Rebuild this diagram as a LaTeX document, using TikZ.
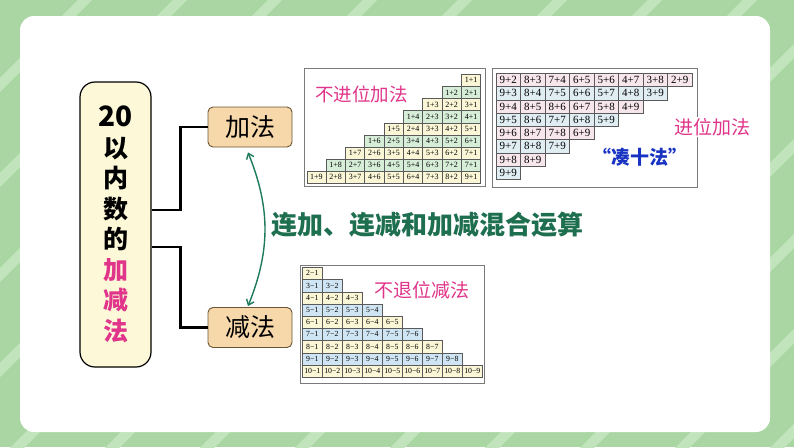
\documentclass[tikz,border=0pt]{standalone}
\usepackage{fontspec}
\setmainfont{Liberation Serif}
\newfontfamily\cjk{Noto Sans CJK SC}
\usetikzlibrary{arrows.meta,calc}

\definecolor{bggreen}{HTML}{A9D6A3}
\definecolor{bglight}{HTML}{C2E4BC}
\definecolor{boxyellow}{HTML}{FDF8D8}
\definecolor{peach}{HTML}{F7D8AA}
\definecolor{peachline}{HTML}{6B5534}
\definecolor{darkgreen}{HTML}{1E6E50}
\definecolor{arrowgreen}{HTML}{1D7A5A}
\definecolor{pinktxt}{HTML}{E0358A}
\definecolor{bluetxt}{HTML}{1833C2}
\definecolor{cellyellow}{HTML}{FBF6D6}
\definecolor{cellgreen}{HTML}{D6EDD8}
\definecolor{cellpink}{HTML}{F7E6EC}
\definecolor{cellblue}{HTML}{E0EEF4}
\definecolor{cellblue2}{HTML}{CFE5F3}
\definecolor{framegray}{HTML}{7A7A7A}
\definecolor{cellline}{HTML}{5A5A5A}

\tikzset{
  titlebox/.style={draw=black, line width=1.2pt, fill=boxyellow, rounded corners=15pt,
    minimum width=71pt, minimum height=285pt, align=center, inner sep=0pt},
  opbox/.style={draw=peachline, fill=peach, line width=0.9pt, rounded corners=5pt,
    minimum width=84pt, minimum height=40pt, inner sep=0pt,
    font=\cjk\fontsize{25}{25}\selectfont},
  conn/.style={line width=2.4pt, black, line join=miter},
  garrow/.style={arrowgreen, line width=1.4pt, {Straight Barb[length=5pt,width=8pt]}-{Straight Barb[length=5pt,width=8pt]}},
  tframe/.style={draw=framegray, line width=0.8pt, fill=white},
  cellbox/.style={draw=cellline, line width=0.4pt, inner sep=0pt},
  pinklbl/.style={text=pinktxt, inner sep=0pt},
}

\begin{document}
\begin{tikzpicture}[x=1pt, y=-1pt]
\useasboundingbox (0,0) rectangle (794,447);
\fill[bggreen] (0,0) rectangle (794,447);
\begin{scope}
  \clip (0,0) rectangle (794,447);
  \foreach \x in {0,95,...,1300} {
    \draw[bglight, line width=10pt] (\x,-10) -- ++(-470,470);
  }
\end{scope}
\fill[white, rounded corners=14pt] (20,16) rectangle (770,432);

% title box
\node[titlebox, font=\cjk\bfseries\fontsize{25}{30.5}\selectfont] (title) at (115.5,224.5)
  {{\fontsize{28}{30.5}\selectfont 20}\\以\\内\\数\\的\\\textcolor{pinktxt}{加}\\\textcolor{pinktxt}{减}\\\textcolor{pinktxt}{法}};

% operation boxes
\node[opbox] (add) at (250,127) {加法};
\node[opbox] (sub) at (250,327.5) {减法};

% connectors
\draw[conn] ([yshift=14.5pt]title.east) -- ++(29pt,0) |- (add.west);
\draw[conn] ([yshift=-22.5pt]title.east) -- ++(29pt,0) |- (sub.west);

% green double arrow
\draw[garrow] ([xshift=-2pt,yshift=-5pt]add.south) to[bend left=22] ([xshift=-2pt,yshift=1pt]sub.north);

% middle text
\node[font=\cjk\bfseries\fontsize{26}{26}\selectfont, text=darkgreen, anchor=west, inner sep=0pt]
  (mix) at (271,225) {连加、连减和加减混合运算};

% ---------- non-carry addition table ----------
\draw[tframe] (304,68) rectangle (485,186);
\foreach \r in {1,...,9} {
  \pgfmathtruncatemacro\cs{10-\r}
  \foreach \c in {\cs,...,9} {
    \pgfmathtruncatemacro\k{\c+\r-9}
    \pgfmathtruncatemacro\m{\r+1-\k}
    \ifnum\r=8 \ifnum\c=9 \def\k{7}\fi\fi
    \ifodd\r\relax \def\fc{cellyellow}\else\def\fc{cellgreen}\fi
    \node[cellbox, fill=\fc, minimum width=19.33pt, minimum height=12.1pt,
      font=\fontsize{8}{8}\selectfont] (na-\r-\c)
      at ({306.7+(\c-0.5)*19.33},{74.3+(\r-0.5)*12.1}) {\k+\m};
  }
}
\node[pinklbl, font=\cjk\fontsize{18.5}{18.5}\selectfont] (t1) at (361.5,94) {不进位加法};

% ---------- carry addition table ----------
\draw[tframe] (492,68) rectangle (697,187);
\foreach \r in {1,...,8} {
  \pgfmathtruncatemacro\ce{9-\r}
  \foreach \c in {1,...,\ce} {
    \pgfmathtruncatemacro\k{10-\c}
    \pgfmathtruncatemacro\m{\r+\c}
    \ifnum\r=3 \ifnum\c=3 \def\k{8}\fi\fi
    \ifodd\r\relax \def\fc{cellpink}\else\def\fc{cellblue}\fi
    \node[cellbox, fill=\fc, minimum width=24.5pt, minimum height=13.25pt,
      font=\fontsize{11}{11}\selectfont] (ca-\r-\c)
      at ({496+(\c-0.5)*24.5},{73.3+(\r-0.5)*13.25}) {\k+\m};
  }
}
\node[pinklbl, fill=white, inner sep=1.5pt, font=\cjk\fontsize{19}{19}\selectfont] (t2) at (712,127) {进位加法};
\node[text=bluetxt, inner sep=0pt, font=\cjk\bfseries\fontsize{19}{19}\selectfont] (t3) at (640,157) {“凑十法”};

% ---------- non-borrow subtraction table ----------
\draw[tframe] (300,265) rectangle (484,383);
\foreach \r in {1,...,9} {
  \pgfmathtruncatemacro\a{\r+1}
  \foreach \c in {1,...,\r} {
    \ifodd\r\relax \def\fc{cellyellow}\else\def\fc{cellblue2}\fi
    \node[cellbox, fill=\fc, minimum width=20pt, minimum height=12.2pt,
      font=\fontsize{7.8}{7.8}\selectfont] (sb-\r-\c)
      at ({302.3+(\c-0.5)*20},{267.3+(\r-0.5)*12.2}) {\a−\c};
  }
}
\node[pinklbl, font=\cjk\fontsize{19}{19}\selectfont] (t4) at (421.5,290) {不退位减法};
\end{tikzpicture}
\end{document}
